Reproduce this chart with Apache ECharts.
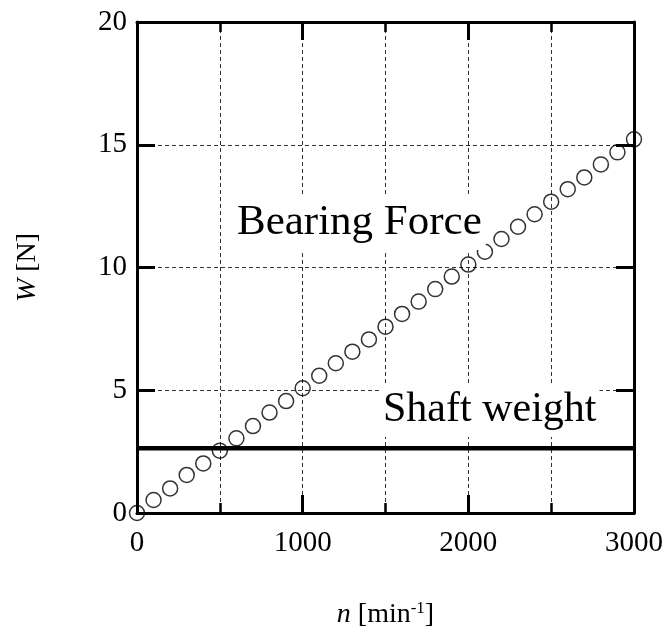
<!DOCTYPE html>
<html>
<head>
<meta charset="utf-8">
<script src="https://cdn.jsdelivr.net/npm/echarts@6/dist/echarts.min.js"></script>
<style>html,body{margin:0;padding:0;background:#fff}#c{width:666px;height:632px}</style>
</head>
<body>
<div id="c"></div>
<script>
var nVals = [0,100,200,300,400,500,600,700,800,900,1000,1100,1200,1300,1400,1500,1600,1700,1800,1900,2000,2100,2200,2300,2400,2500,2600,2700,2800,2900,3000];
var wVals = [0,0.53,1.0,1.55,2.02,2.54,3.04,3.54,4.09,4.56,5.08,5.59,6.10,6.57,7.07,7.59,8.11,8.61,9.12,9.63,10.12,10.64,11.16,11.66,12.17,12.68,13.19,13.67,14.2,14.69,15.22];
var shaftWeight = 2.64;
var xRange = [0, 3000];
var yRange = [0, 20];
var labelBearing = 'Bearing Force';
var labelShaft = 'Shaft weight';

var FONT = '"Liberation Serif","Times New Roman",serif';
var chart = echarts.init(document.getElementById('c'));
var pts = nVals.map(function(n,i){return [n, wVals[i]];});

function xAx(pos, main){
  return {
    type:'value', position:pos, min:xRange[0], max:xRange[1], interval:1000,
    axisLine:{show:true, onZero:false, lineStyle:{color:'#000', width:3}},
    axisTick:{show:true, inside:true, length:18, lineStyle:{color:'#000', width:3}},
    minorTick:{show:true, splitNumber:2, length:10, lineStyle:{color:'#000', width:2.5}},
    axisLabel:{show:main, color:'#000', fontFamily:FONT, fontSize:29, margin:16,
      formatter:function(v){return String(v);}},
    splitLine:{show:main, lineStyle:{color:'#333', width:1, type:[4,3]}},
    minorSplitLine:{show:main, lineStyle:{color:'#333', width:1, type:[4,3]}},
    name: main ? '{it|n} [min{sup|-1}]' : '',
    nameLocation:'middle', nameGap:87,
    nameTextStyle:{color:'#000', fontFamily:FONT, fontSize:28, lineHeight:30,
      rich:{it:{fontStyle:'italic', fontFamily:FONT, fontSize:28, color:'#000', lineHeight:30},
            sup:{fontFamily:FONT, fontSize:17, color:'#000', verticalAlign:'top', lineHeight:17}}}
  };
}
function yAx(pos, main){
  return {
    type:'value', position:pos, min:yRange[0], max:yRange[1], interval:5,
    axisLine:{show:true, onZero:false, lineStyle:{color:'#000', width:3}},
    axisTick:{show:true, inside:true, length:18, lineStyle:{color:'#000', width:3}},
    axisLabel:{show:main, color:'#000', fontFamily:FONT, fontSize:29, margin:10},
    splitLine:{show:main, lineStyle:{color:'#333', width:1, type:[4,3]}},
    name: main ? '{it|W} [N]' : '',
    nameLocation:'middle', nameGap:95, nameRotate:90,
    nameTextStyle:{color:'#000', fontFamily:FONT, fontSize:28,
      rich:{it:{fontStyle:'italic', fontFamily:FONT, fontSize:28, color:'#000'}}}
  };
}

chart.setOption({
  animation:false,
  backgroundColor:'#fff',
  grid:{left:137, right:32, top:22, bottom:119, containLabel:false, outerBoundsMode:'none'},
  xAxis:[xAx('bottom', true), xAx('top', false)],
  yAxis:[yAx('left', true), yAx('right', false)],
  series:[
    {type:'line', data:[[xRange[0], shaftWeight],[xRange[1], shaftWeight]], symbol:'none',
     lineStyle:{color:'#000', width:4.5}, z:3},
    {type:'scatter', data:pts, symbol:'circle', symbolSize:15,
     itemStyle:{color:'rgba(0,0,0,0)', borderColor:'#000', borderWidth:1.5}, z:4}
  ],
  graphic:[
    {type:'text', z:100, left:232, top:197,
     style:{text:labelBearing, font:'43px ' + FONT, fill:'#000', backgroundColor:'#fff', padding:[4,4,6,5]}},
    {type:'text', z:100, left:381, top:385,
     style:{text:labelShaft, font:'42px ' + FONT, fill:'#000', backgroundColor:'#fff', padding:[4,3,6,2]}}
  ]
});
</script>
</body>
</html>
